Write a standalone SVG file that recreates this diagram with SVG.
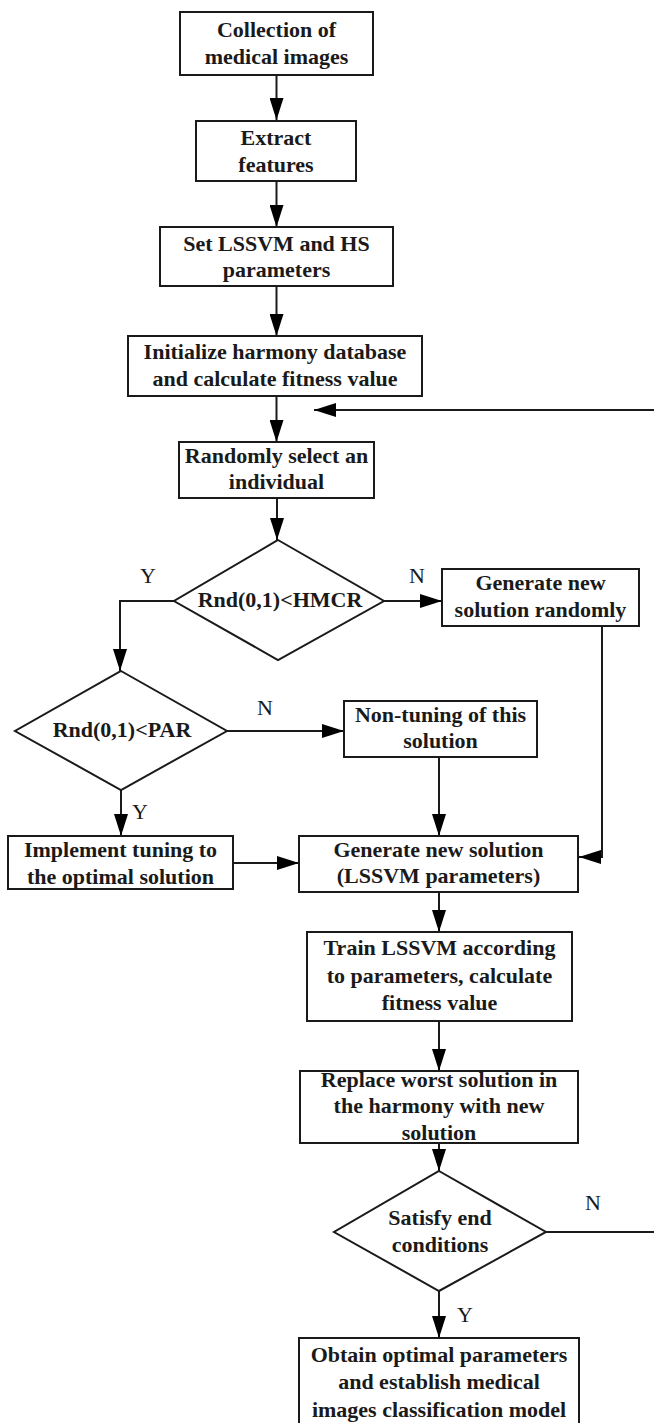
<svg xmlns="http://www.w3.org/2000/svg" width="654" height="1423" viewBox="0 0 654 1423">
<style>
.box{fill:#fff;stroke:#1a1a1a;stroke-width:2}
.t{font-family:"Liberation Serif","Times New Roman",serif;font-weight:bold;font-size:22px;fill:#1a1a1a;text-anchor:middle}
.lbl{font-family:"Liberation Serif","Times New Roman",serif;font-size:22px;fill:#1a1a1a;text-anchor:middle}
.c{fill:none;stroke:#1a1a1a;stroke-width:2}
</style>
<defs>
<marker id="ah" markerUnits="userSpaceOnUse" markerWidth="22" markerHeight="14" refX="22" refY="7" orient="auto">
<path d="M0,0 L22,7 L0,14 z" fill="#000"/>
</marker>
</defs>
<rect width="654" height="1423" fill="#fff"/>
<g id="connectors">
<path class="c" d="M276.5,75 V120" marker-end="url(#ah)"/>
<path class="c" d="M276.5,181 V227" marker-end="url(#ah)"/>
<path class="c" d="M276.5,286 V336" marker-end="url(#ah)"/>
<path class="c" d="M276.5,396 V442" marker-end="url(#ah)"/>
<path class="c" d="M546,1232 H662 V410 H314" marker-end="url(#ah)"/>
<path class="c" d="M277,498 V540" marker-end="url(#ah)"/>
<path class="c" d="M174,601 H120 V671" marker-end="url(#ah)"/>
<path class="c" d="M384,601 H442" marker-end="url(#ah)"/>
<path class="c" d="M602,626 V857 H579" marker-end="url(#ah)"/>
<path class="c" d="M227,731 H344" marker-end="url(#ah)"/>
<path class="c" d="M439,757 V836" marker-end="url(#ah)"/>
<path class="c" d="M121,790 V836" marker-end="url(#ah)"/>
<path class="c" d="M233,863 H299" marker-end="url(#ah)"/>
<path class="c" d="M439,892 V932" marker-end="url(#ah)"/>
<path class="c" d="M439,1021 V1071" marker-end="url(#ah)"/>
<path class="c" d="M439,1143 V1171" marker-end="url(#ah)"/>
<path class="c" d="M439,1291 V1338" marker-end="url(#ah)"/>
<text class="lbl" x="148" y="583">Y</text>
<text class="lbl" x="417" y="583">N</text>
<text class="lbl" x="265" y="715">N</text>
<text class="lbl" x="140" y="819">Y</text>
<text class="lbl" x="593" y="1210">N</text>
<text class="lbl" x="465" y="1322">Y</text>
</g>
<g id="n1"><rect class="box" x="180" y="12" width="193" height="63"/><text class="t" x="276.5" y="37">Collection of</text><text class="t" x="276.5" y="64">medical images</text></g>
<g id="n2"><rect class="box" x="196" y="121" width="160" height="60"/><text class="t" x="276" y="145">Extract</text><text class="t" x="276" y="172">features</text></g>
<g id="n3"><rect class="box" x="160" y="227" width="233" height="59"/><text class="t" x="276.5" y="251">Set LSSVM and HS</text><text class="t" x="276.5" y="277">parameters</text></g>
<g id="n4"><rect class="box" x="128" y="336" width="294" height="60"/><text class="t" x="275" y="359">Initialize harmony database</text><text class="t" x="275" y="386">and calculate fitness value</text></g>
<g id="n5"><rect class="box" x="179" y="442" width="195" height="56"/><text class="t" x="276.5" y="463">Randomly select an</text><text class="t" x="276.5" y="489">individual</text></g>
<g id="d1"><polygon class="box" points="278,540 384,601 278,660 174,601"/><text class="t" x="280" y="607">Rnd(0,1)&lt;HMCR</text></g>
<g id="n6"><rect class="box" x="442" y="569" width="197" height="57"/><text class="t" x="540.5" y="590">Generate new</text><text class="t" x="540.5" y="617">solution randomly</text></g>
<g id="d2"><polygon class="box" points="121,671 227,731 121,790 15,731"/><text class="t" x="122" y="737">Rnd(0,1)&lt;PAR</text></g>
<g id="n7"><rect class="box" x="344" y="701" width="193" height="56"/><text class="t" x="440.5" y="722">Non-tuning of this</text><text class="t" x="440.5" y="748">solution</text></g>
<g id="n8"><rect class="box" x="8" y="836" width="225" height="53"/><text class="t" x="120.5" y="857">Implement tuning to</text><text class="t" x="120.5" y="884">the optimal solution</text></g>
<g id="n9"><rect class="box" x="299" y="836" width="279" height="56"/><text class="t" x="438.5" y="857">Generate new solution</text><text class="t" x="438.5" y="883">(LSSVM parameters)</text></g>
<g id="n10"><rect class="box" x="307" y="932" width="265" height="89"/><text class="t" x="439.5" y="955">Train LSSVM according</text><text class="t" x="439.5" y="983">to parameters, calculate</text><text class="t" x="439.5" y="1010">fitness value</text></g>
<g id="n11"><rect class="box" x="300" y="1071" width="278" height="72"/><text class="t" x="439" y="1087">Replace worst solution in</text><text class="t" x="439" y="1113">the harmony with new</text><text class="t" x="439" y="1140">solution</text></g>
<g id="d3"><polygon class="box" points="439,1171 546,1232 439,1291 334,1232"/><text class="t" x="440" y="1225">Satisfy end</text><text class="t" x="440" y="1252">conditions</text></g>
<g id="n12"><rect class="box" x="299" y="1338" width="280" height="95"/><text class="t" x="439" y="1362">Obtain optimal parameters</text><text class="t" x="439" y="1389">and establish medical</text><text class="t" x="439" y="1417">images classification model</text></g>
</svg>
